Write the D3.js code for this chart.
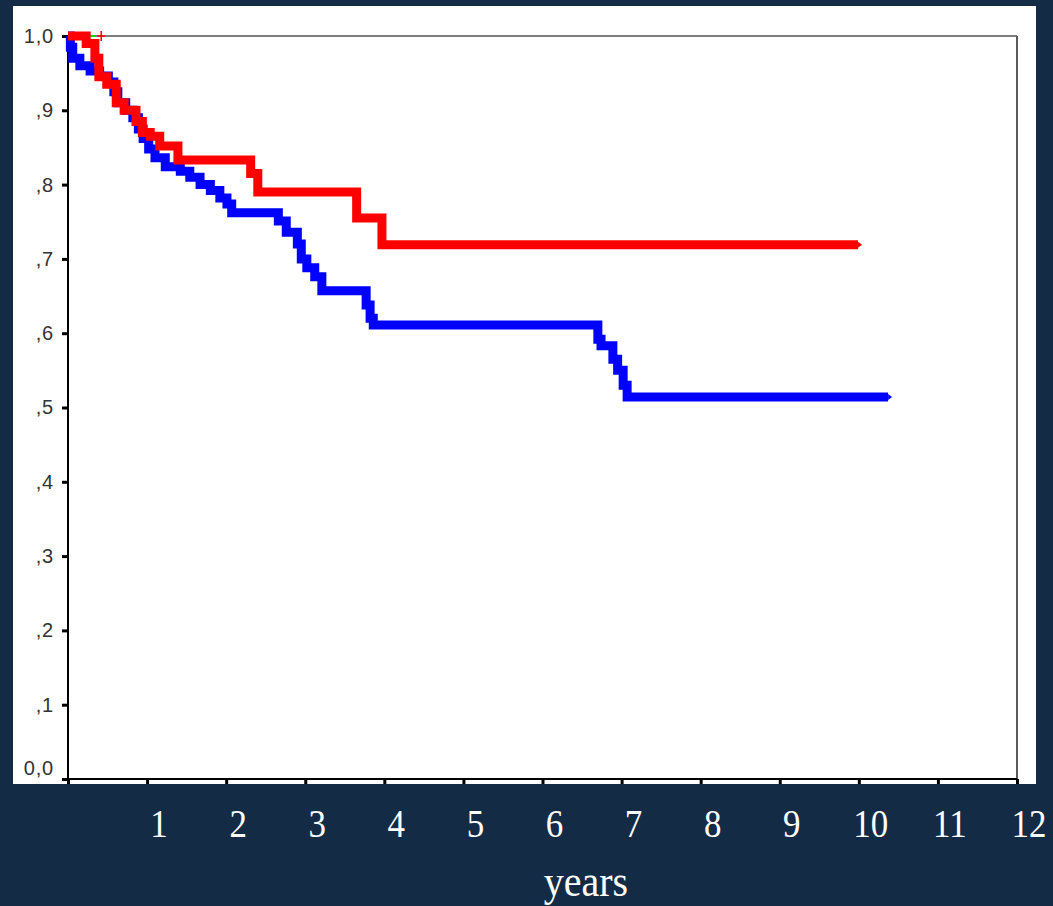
<!DOCTYPE html>
<html>
<head>
<meta charset="utf-8">
<script src="https://cdn.jsdelivr.net/npm/d3@7"></script>
<style>
  html, body { margin: 0; padding: 0; background: #132b45; }
  svg { display: block; }
</style>
</head>
<body>
<svg id="chart" width="1053" height="906"></svg>
<script>
// ---- data ----
const xTickValues = [1, 2, 3, 4, 5, 6, 7, 8, 9, 10, 11, 12];
const yTickValues = [0, 0.1, 0.2, 0.3, 0.4, 0.5, 0.6, 0.7, 0.8, 0.9, 1.0];
const yTickLabels = ["0,0", ",1", ",2", ",3", ",4", ",5", ",6", ",7", ",8", ",9", "1,0"];
const xAxisTitle = "years";

const redTimes = [0, 0.23, 0.34, 0.39, 0.49, 0.61, 0.71, 0.86, 0.94, 1.04, 1.16, 1.39, 2.31, 2.40, 3.65, 3.97, 9.99];
const redSurv  = [1.0, 0.99, 0.97, 0.945, 0.935, 0.91, 0.90, 0.885, 0.87, 0.865, 0.852, 0.833, 0.815, 0.79, 0.755, 0.719, 0.719];

const blueTimes = [0, 0.03, 0.06, 0.15, 0.28, 0.40, 0.51, 0.58, 0.63, 0.73, 0.82, 0.89, 0.95, 1.02, 1.10, 1.23, 1.42, 1.54, 1.67, 1.80, 1.92, 2.01, 2.07, 2.66, 2.76, 2.90, 2.95, 3.02, 3.12, 3.21, 3.77, 3.82, 3.86, 6.70, 6.74, 6.89, 6.95, 7.02, 7.07, 10.37];
const blueSurv  = [1.0, 0.985, 0.97, 0.96, 0.953, 0.946, 0.938, 0.925, 0.91, 0.90, 0.89, 0.875, 0.862, 0.848, 0.836, 0.824, 0.818, 0.81, 0.80, 0.792, 0.782, 0.774, 0.762, 0.751, 0.736, 0.72, 0.70, 0.688, 0.676, 0.657, 0.638, 0.62, 0.611, 0.592, 0.583, 0.565, 0.55, 0.53, 0.514, 0.514];

const greenTimes = [0.25, 0.35];
const greenSurv  = [1.0, 1.0];
const redCensorTimes = [0.42];
const redCensorSurv  = [1.0];

// ---- layout ----
const svg = d3.select("#chart");
const panel = { x0: 13, y0: 6, x1: 1036, y1: 784 };
const plot = { left: 68, right: 1017, top: 36, bottom: 779 };

svg.append("rect")
  .attr("x", panel.x0).attr("y", panel.y0)
  .attr("width", panel.x1 - panel.x0).attr("height", panel.y1 - panel.y0)
  .attr("fill", "#ffffff");

const x = d3.scaleLinear().domain([0, 12]).range([plot.left, plot.right]);
const y = d3.scaleLinear().domain([0, 1]).range([plot.bottom, plot.top]);

// frame (top & right)
svg.append("line").attr("x1", x(0)).attr("x2", x(12)).attr("y1", y(1)).attr("y2", y(1))
  .attr("stroke", "#555").attr("stroke-width", 1.5);
svg.append("line").attr("x1", x(12)).attr("x2", x(12)).attr("y1", y(1)).attr("y2", y(0))
  .attr("stroke", "#5a5a5a").attr("stroke-width", 2);

// y axis
const yAxis = d3.axisLeft(y).tickValues(yTickValues).tickSize(6).tickPadding(8)
  .tickFormat((d, i) => yTickLabels[i]);
const gy = svg.append("g").attr("transform", `translate(${plot.left},0)`).call(yAxis);
gy.select(".domain").remove();
gy.selectAll(".tick line").attr("stroke", "#000").attr("stroke-width", 3);
gy.selectAll(".tick text")
  .attr("fill", "#333").attr("font-family", "Liberation Sans, Arial, sans-serif")
  .attr("font-size", 20).attr("letter-spacing", 0.8);
gy.selectAll(".tick").filter(d => d === 0).select("text").attr("dy", "-0.25em");
svg.append("line").attr("x1", plot.left).attr("x2", plot.left)
  .attr("y1", y(1) - 1).attr("y2", panel.y1)
  .attr("stroke", "#000").attr("stroke-width", 2);

// x axis
const xAxis = d3.axisBottom(x).tickValues(d3.range(0, 13)).tickSize(5).tickFormat("");
const gx = svg.append("g").attr("transform", `translate(0,${plot.bottom})`).call(xAxis);
gx.select(".domain").remove();
gx.selectAll(".tick line").attr("stroke", "#000").attr("stroke-width", 3);
svg.append("line").attr("x1", plot.left - 6).attr("x2", x(12))
  .attr("y1", plot.bottom).attr("y2", plot.bottom)
  .attr("stroke", "#000").attr("stroke-width", 2);

// x tick labels (white, serif, below the panel)
svg.append("g").selectAll("text").data(xTickValues).join("text")
  .attr("transform", d => `translate(${x(d) + 12},837) scale(1,1.12)`)
  .attr("text-anchor", "middle")
  .attr("fill", "#ffffff")
  .attr("font-family", "Liberation Serif, Times New Roman, serif")
  .attr("font-size", 35)
  .text(d => d);

svg.append("text")
  .attr("transform", `translate(${x(6.55)},896) scale(1,1.1)`)
  .attr("text-anchor", "middle")
  .attr("fill", "#ffffff")
  .attr("font-family", "Liberation Serif, Times New Roman, serif")
  .attr("font-size", 40)
  .text(xAxisTitle);

// curves
const line = d3.line().x(d => x(d[0])).y(d => y(d[1])).curve(d3.curveStepAfter);
const zip = (a, b) => a.map((v, i) => [v, b[i]]);

svg.append("path").datum(zip(greenTimes, greenSurv))
  .attr("d", line).attr("fill", "none").attr("stroke", "#00dd00").attr("stroke-width", 2);

const series = [
  { t: blueTimes, s: blueSurv, color: "#0000ff" },
  { t: redTimes, s: redSurv, color: "#ff0000" }
];
series.forEach(sr => {
  const pts = zip(sr.t, sr.s);
  svg.append("path").datum(pts)
    .attr("d", line).attr("fill", "none")
    .attr("stroke", sr.color).attr("stroke-width", 9)
    .attr("stroke-linejoin", "miter").attr("stroke-linecap", "butt");
  const last = pts[pts.length - 1];
  svg.append("path")
    .attr("d", `M${x(last[0])},${y(last[1]) - 3}L${x(last[0]) + 4},${y(last[1])}L${x(last[0])},${y(last[1]) + 3}Z`)
    .attr("fill", sr.color);
});

// censor mark
svg.append("g").selectAll("path").data(zip(redCensorTimes, redCensorSurv)).join("path")
  .attr("d", d => `M${x(d[0]) - 4},${y(d[1])}H${x(d[0]) + 4}M${x(d[0])},${y(d[1]) - 5}V${y(d[1]) + 5}`)
  .attr("stroke", "#ff0000").attr("stroke-width", 1.5).attr("fill", "none");
</script>
</body>
</html>
